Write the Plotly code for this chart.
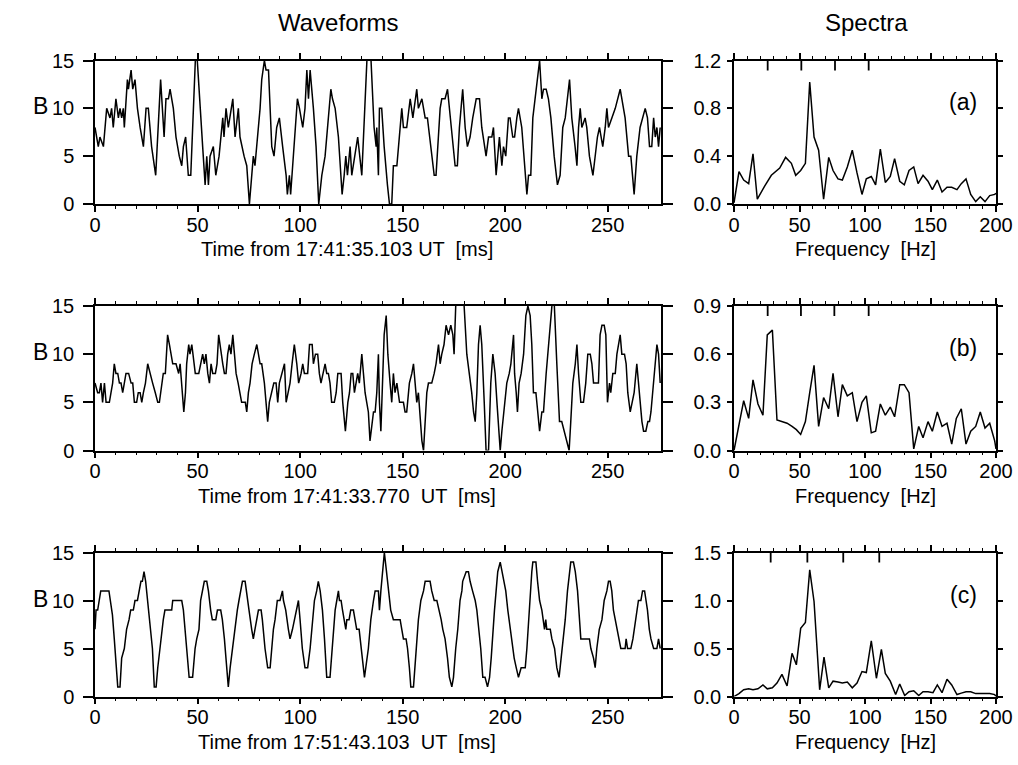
import plotly.graph_objects as go

W, H = 1018, 765
FONT = "Liberation Sans"

# ---------------- data: waveforms (time in ms, B in arbitrary units) ----------------
wa_t = [0, 1.6, 2.4, 4.1, 5.7, 7.3, 8.1, 8.9, 10.2, 11.4,
        12.2, 13.0, 13.8, 14.3, 15.8, 16.3, 17.6, 18.4, 19.5, 20.7,
        22.0, 23.6, 24.9, 26.0, 27.6, 29.6, 32.0, 33.7, 34.6, 35.8,
        36.6, 38.2, 39.5, 41.1, 42.3, 43.1, 44.2, 45.5, 46.7, 49.3,
        52.5, 53.7, 54.5, 55.3, 56.1, 57.7, 58.9, 60.5, 62.3, 62.9,
        63.9, 65.0, 67.2, 68.3, 69.9, 70.7, 72.7, 74.0, 75.3, 77.2,
        78.0, 79.7, 80.5, 81.3, 82.6, 83.4, 84.6, 86.2, 87.3, 88.6,
        89.9, 91.5, 93.2, 93.8, 94.8, 95.4, 97.1, 98.7, 99.7, 101.3,
        102.4, 103.3, 104.1, 104.9, 106.5, 107.8, 109.1, 110.6, 112.2, 113.3,
        114.1, 115.0, 115.8, 117.1, 118.7, 119.5, 120.5, 121.5, 122.3, 123.1,
        124.4, 125.2, 126.5, 128.1, 130.1, 133.0, 134.6, 136.1, 137.1, 137.4,
        138.2, 138.7, 139.8, 141.0, 142.6, 143.6, 144.7, 145.5, 147.2, 148.5,
        149.6, 150.4, 152.0, 153.7, 155.0, 156.9, 157.7, 159.4, 161.0, 162.1,
        163.7, 165.4, 166.3, 167.5, 168.3, 169.1, 170.7, 171.9, 172.8, 174.8,
        175.6, 176.7, 177.7, 178.9, 179.3, 180.5, 181.6, 182.9, 184.2, 185.9,
        187.5, 188.6, 189.8, 190.7, 191.9, 193.5, 194.3, 195.6, 197.2, 198.4,
        199.2, 200.3, 201.6, 202.4, 203.7, 204.6, 205.7, 206.5, 208.1, 209.3,
        210.6, 211.4, 212.5, 213.5, 215.1, 216.8, 217.9, 218.7, 220.0, 221.1,
        222.3, 223.9, 225.5, 226.8, 228.1, 229.3, 231.4, 232.5, 234.1, 235.0,
        235.8, 236.6, 237.4, 239.0, 239.8, 241.1, 242.8, 243.9, 245.0, 246.0,
        247.6, 248.8, 249.6, 250.4, 252.0, 253.7, 256.1, 256.9, 258.5, 260.2,
        261.3, 262.9, 264.2, 265.8, 267.1, 268.3, 269.4, 270.4, 271.5, 272.4,
        273.2, 274.0, 274.8, 275.6]
wa_b = [8, 6, 7, 6, 10, 9, 10, 8, 11, 9,
        10, 9, 10, 8, 13, 12, 14, 12, 13, 10,
        8, 6, 10, 10, 6, 3, 13, 7, 11, 11,
        12, 10, 7, 5, 4, 6, 7, 3, 3, 17,
        6, 2, 5, 2, 5, 6, 3, 5, 9, 7,
        10, 8, 11, 7, 10, 7, 5, 4, 0, 5,
        4, 8, 10, 13, 15, 14, 14, 6, 5, 8,
        9, 6, 3, 1, 3, 1, 6, 11, 10, 8,
        10, 14, 11, 14, 10, 6, 0, 3, 5, 8,
        10, 12, 11, 10, 7, 4, 1, 3, 5, 3,
        6, 3, 5, 7, 3, 17, 15, 8, 6, 8,
        3, 10, 10, 6, 2, 0, 0, 4, 4, 7,
        10, 8, 8, 11, 9, 12, 10, 11, 9, 9,
        6, 3, 3, 8, 10, 11, 11, 12, 10, 6,
        4, 4, 8, 11, 12, 8, 6, 7, 9, 11,
        11, 8, 6, 5, 7, 7, 8, 3, 7, 4,
        6, 5, 9, 9, 7, 7, 9, 10, 8, 5,
        1, 3, 3, 9, 12, 15, 11, 12, 12, 11,
        9, 5, 2, 3, 8, 9, 13, 9, 6, 4,
        8, 10, 8, 9, 8, 5, 3, 5, 7, 8,
        6, 8, 10, 8, 9, 10, 12, 11, 9, 5,
        5, 1, 5, 8, 9, 10, 9, 6, 6, 9,
        7, 8, 6, 8]

wb_t = [0, 1.3, 2.1, 2.9, 3.7, 4.6, 5.4, 7.0, 7.8, 8.6,
        9.4, 10.2, 11.1, 11.9, 12.7, 13.5, 14.3, 15.1, 16.4, 17.6,
        18.4, 19.2, 20.3, 21.1, 22.0, 22.8, 23.6, 24.6, 25.7, 26.8,
        28.1, 29.4, 30.6, 31.4, 32.5, 33.3, 34.3, 35.4, 36.3, 37.1,
        37.9, 39.5, 40.8, 41.5, 42.3, 43.3, 44.1, 44.7, 45.7, 46.3,
        47.2, 48.1, 48.9, 50.6, 51.4, 52.5, 53.3, 54.1, 55.0, 55.8,
        56.6, 57.4, 58.7, 59.5, 60.3, 61.5, 62.3, 63.1, 63.9, 64.7,
        65.5, 66.3, 67.2, 68.0, 68.8, 69.8, 70.7, 71.5, 72.4, 73.3,
        74.0, 74.8, 75.6, 76.6, 77.7, 78.9, 79.7, 80.5, 81.3, 82.6,
        83.4, 84.2, 85.0, 86.2, 87.2, 88.3, 89.1, 89.9, 91.1, 92.4,
        93.2, 94.0, 95.1, 96.1, 97.2, 98.4, 99.3, 100.5, 101.3, 102.1,
        103.7, 104.6, 105.9, 106.5, 107.5, 108.6, 109.4, 110.2, 111.1, 112.2,
        113.0, 113.8, 114.6, 115.4, 116.7, 117.6, 118.4, 120.0, 120.8, 122.1,
        123.3, 124.1, 124.9, 125.7, 126.5, 127.3, 128.1, 128.9, 130.1, 130.9,
        131.7, 132.5, 133.3, 134.1, 135.0, 135.8, 136.6, 137.4, 138.2, 138.7,
        139.4, 140.2, 141.0, 142.0, 142.8, 143.9, 144.7, 145.5, 146.3, 147.2,
        148.5, 150.4, 151.2, 152.0, 153.3, 154.5, 155.3, 156.1, 156.9, 157.7,
        158.5, 159.4, 160.2, 161.0, 161.8, 162.6, 164.2, 165.4, 166.3, 167.5,
        168.3, 169.1, 170.2, 171.2, 172.4, 173.5, 174.5, 175.1, 175.9, 178.0,
        180.0, 181.3, 182.6, 183.7, 184.6, 185.4, 186.2, 187.0, 187.8, 188.6,
        189.8, 190.7, 191.9, 193.0, 194.0, 195.1, 196.0, 196.8, 197.6, 198.4,
        199.5, 200.8, 202.0, 202.8, 204.1, 204.6, 205.4, 206.0, 206.8, 207.8,
        209.0, 210.1, 211.1, 212.2, 213.0, 213.8, 215.0, 216.0, 216.8, 217.9,
        218.7, 220.0, 221.1, 222.0, 223.6, 225.2, 226.5, 227.6, 228.8, 230.1,
        231.2, 232.0, 233.0, 234.2, 235.0, 235.8, 236.9, 238.2, 239.3, 240.3,
        241.5, 242.3, 243.1, 245.5, 246.3, 247.2, 248.3, 249.1, 249.9, 250.9,
        251.5, 252.5, 253.7, 254.5, 255.3, 256.1, 256.9, 258.2, 259.0, 259.8,
        261.0, 261.8, 262.9, 264.2, 265.0, 265.9, 266.7, 267.5, 268.6, 269.6,
        270.4, 271.1, 272.0, 273.2, 274.0, 274.8, 275.6]
wb_b = [7, 6, 6, 7, 5, 7, 5, 5, 6, 7,
        9, 8, 8, 7, 7, 6, 7, 8, 8, 7,
        7, 5, 5, 6, 6, 5, 6, 7, 9, 8,
        7, 6, 5, 5, 7, 8, 8, 12, 11, 10,
        9, 9, 8, 9, 7, 4, 6, 9, 11, 10,
        11, 9, 8, 8, 9, 10, 9, 10, 8, 7,
        9, 8, 8, 9, 12, 10, 9, 8, 8, 10,
        11, 10, 12, 10, 8, 7, 6, 5, 5, 5,
        4, 6, 7, 9, 10, 11, 10, 9, 9, 7,
        5, 3, 5, 6, 7, 7, 5, 7, 8, 9,
        5, 6, 7, 9, 11, 9, 7, 8, 9, 8,
        8, 11, 11, 9, 10, 10, 8, 7, 8, 9,
        8, 8, 7, 5, 5, 6, 8, 8, 5, 2,
        5, 6, 8, 8, 6, 7, 8, 7, 10, 8,
        6, 5, 4, 1, 3, 4, 4, 6, 10, 5,
        2, 7, 12, 14, 10, 7, 5, 8, 6, 7,
        5, 5, 4, 4, 7, 8, 9, 7, 5, 6,
        4, 1, 0, 3, 6, 7, 7, 8, 9, 11,
        9, 10, 11, 13, 12, 13, 12, 10, 15, 17,
        15, 10, 8, 6, 4, 3, 6, 11, 13, 11,
        5, 0, 0, 7, 10, 8, 5, 2, 0, 2,
        4, 7, 8, 9, 12, 8, 6, 4, 7, 8,
        10, 14, 15, 14, 11, 6, 6, 4, 2, 4,
        4, 8, 11, 14, 17, 9, 3, 3, 2, 1,
        0, 3, 7, 9, 11, 8, 5, 5, 7, 10,
        10, 9, 7, 7, 12, 13, 13, 12, 5, 7,
        6, 8, 8, 10, 11, 12, 10, 10, 9, 6,
        4, 5, 6, 9, 7, 5, 3, 2, 2, 3,
        3, 4, 6, 9, 11, 10, 7]

wc_t = [0, 0.5, 1.3, 2.0, 2.8, 6.8, 7.8, 8.5, 9.4, 10.2,
        11.1, 12.2, 13.0, 14.3, 15.4, 16.6, 17.4, 18.7, 19.5, 20.7,
        21.6, 22.4, 23.1, 23.9, 24.7, 25.7, 26.8, 28.0, 28.9, 29.8,
        30.6, 31.7, 32.5, 33.3, 34.1, 37.4, 37.9, 42.3, 43.1, 43.9,
        45.0, 45.9, 47.6, 48.8, 49.6, 50.7, 51.5, 52.5, 53.3, 54.5,
        55.3, 56.4, 57.2, 58.9, 59.7, 61.3, 62.1, 63.1, 63.9, 65.0,
        65.9, 67.0, 68.3, 69.4, 70.2, 71.1, 71.9, 73.2, 74.3, 75.1,
        76.4, 77.2, 78.0, 78.9, 79.7, 81.0, 81.6, 82.9, 84.2, 85.4,
        86.2, 87.0, 87.8, 88.9, 90.2, 91.4, 91.9, 93.0, 94.3, 95.1,
        96.3, 97.2, 98.4, 99.2, 100.0, 101.1, 102.4, 103.7, 104.9, 106.0,
        107.0, 108.1, 108.9, 109.8, 110.9, 111.9, 113.0, 114.6, 115.4, 116.3,
        117.1, 117.9, 118.7, 119.2, 120.0, 120.7, 121.6, 122.3, 122.8, 123.9,
        124.7, 126.0, 126.8, 127.6, 128.8, 129.8, 130.6, 131.4, 133.3, 134.5,
        135.8, 136.6, 138.2, 138.7, 139.4, 140.3, 141.1, 142.0, 143.1, 144.2,
        145.5, 148.8, 149.6, 150.4, 151.7, 152.4, 153.3, 154.0, 155.3, 156.6,
        157.7, 158.9, 160.2, 161.0, 163.4, 164.2, 165.4, 166.7, 167.8, 168.8,
        169.6, 170.7, 171.9, 172.8, 174.0, 174.8, 175.9, 176.9, 178.0, 178.9,
        179.3, 181.0, 182.1, 182.9, 184.1, 185.4, 186.2, 187.3, 188.1, 189.1,
        190.2, 191.4, 192.4, 193.2, 194.0, 194.8, 195.6, 196.4, 197.6, 198.4,
        199.2, 200.3, 201.3, 202.4, 203.6, 204.4, 205.4, 206.5, 207.8, 209.8,
        210.6, 211.4, 212.2, 213.0, 213.5, 215.0, 215.8, 216.8, 217.9, 218.7,
        219.2, 219.8, 220.3, 222.0, 222.8, 224.1, 225.2, 226.3, 227.3, 228.5,
        229.3, 230.4, 231.4, 232.0, 233.3, 234.2, 235.3, 236.1, 236.9, 241.1,
        241.8, 243.1, 243.9, 244.7, 245.9, 247.2, 248.3, 249.6, 250.4, 251.2,
        252.0, 252.8, 253.7, 254.8, 255.8, 256.4, 258.5, 259.0, 259.7, 261.3,
        262.3, 262.9, 264.2, 265.0, 266.2, 267.0, 268.0, 268.8, 269.4, 270.3,
        271.1, 272.4, 274.0, 274.8, 275.6]
wc_b = [7, 9, 9, 10, 11, 11, 9.5, 8.5, 6, 3,
        1, 1, 4, 5, 7, 8, 9, 9, 10, 10,
        11, 12, 12, 13, 12, 10, 8, 5, 1, 1,
        3, 5, 7, 8, 9, 9, 10, 10, 9, 7,
        4, 2, 2, 5, 6, 7, 10, 11, 12, 12,
        11, 9, 8, 8, 9, 9, 8, 6, 4, 1,
        3, 5, 7, 9, 10, 11, 12, 12, 10, 9,
        7, 6, 7, 8, 9, 9, 8, 5, 3, 3,
        5, 7, 8, 10, 10, 11, 10, 9, 7, 6,
        7, 8, 9, 10, 8, 5, 3, 3, 5, 8,
        10, 11, 12, 11, 9, 6, 2, 2, 4, 7,
        9, 10, 11, 10, 10, 9, 8, 7, 8, 8,
        9, 9, 8, 7, 7, 5, 3, 2, 5, 8,
        10, 11, 11, 9, 11, 13, 15, 13.3, 11, 9,
        8, 8, 7, 6, 6, 5, 3, 1, 1, 5,
        8, 10, 11, 12, 12, 11, 10, 10, 9, 8,
        7, 6, 4, 2, 1, 2, 5, 7, 10, 11,
        12, 13, 13, 12, 11, 10, 9, 7, 5, 2,
        2, 1, 2, 4, 7, 9, 11, 13, 14, 13,
        12, 11, 9, 7, 5, 4, 3, 2, 3, 3,
        5, 8, 11, 13, 14, 14, 12, 10, 9, 8,
        7, 8, 7, 7, 6, 5, 3, 2, 4, 6,
        8, 11, 13, 14, 14, 13, 11, 8, 6, 6,
        5, 4, 3, 5, 7, 8, 10, 11, 12, 12,
        11, 9, 8, 7, 6, 5, 5, 6, 5, 5,
        6, 7, 9, 10, 10, 11, 11, 10, 9, 7,
        6, 5, 5, 6, 5]

# ---------------- data: spectra (frequency in Hz, amplitude) ----------------
sa_f = [0, 3.8, 7.4, 11.2, 14.5, 17.8, 23.4, 28.5, 34.9, 39.4,
        43.8, 47.1, 50.9, 54.5, 57.8, 61.1, 64.6, 68.4, 72.3, 75.6,
        79.4, 82.7, 86.5, 90.3, 93.9, 97.7, 101.0, 104.8, 108.1, 111.7,
        115.5, 119.3, 122.6, 126.5, 130.0, 133.6, 137.2, 140.5, 144.3, 148.1,
        151.4, 155.2, 158.8, 162.6, 166.2, 170.2, 173.5, 177.1, 180.7, 184.5,
        188.0, 191.6, 195.2, 199.0, 200]
sa_v = [0.01, 0.27, 0.20, 0.17, 0.42, 0.04, 0.15, 0.24, 0.30, 0.39,
        0.34, 0.24, 0.28, 0.34, 1.02, 0.56, 0.45, 0.04, 0.39, 0.28,
        0.21, 0.20, 0.31, 0.45, 0.26, 0.08, 0.21, 0.23, 0.16, 0.46,
        0.18, 0.23, 0.38, 0.19, 0.16, 0.28, 0.31, 0.17, 0.24, 0.19,
        0.12, 0.20, 0.10, 0.14, 0.14, 0.12, 0.17, 0.21, 0.08, 0.02,
        0.06, 0.02, 0.07, 0.08, 0.09]

sb_f = [0, 3.8, 7.4, 11.2, 14.5, 18.3, 22.1, 25.4, 29.3, 32.8,
        36.6, 40.5, 44.3, 47.6, 50.9, 54.5, 57.8, 61.1, 64.6, 68.4,
        72.3, 75.6, 79.4, 82.7, 86.5, 90.3, 93.9, 97.7, 101.0, 104.8,
        108.1, 111.7, 115.5, 119.3, 122.6, 126.5, 130.0, 133.6, 137.2, 141.0,
        144.3, 148.1, 151.4, 155.2, 158.8, 162.6, 166.2, 169.7, 173.5, 177.1,
        180.7, 184.5, 188.0, 191.6, 195.2, 199.0, 200]
sb_v = [0.00, 0.16, 0.31, 0.20, 0.44, 0.29, 0.22, 0.72, 0.75, 0.19,
        0.18, 0.17, 0.15, 0.13, 0.10, 0.18, 0.36, 0.53, 0.15, 0.33,
        0.26, 0.48, 0.21, 0.41, 0.34, 0.36, 0.18, 0.30, 0.34, 0.11,
        0.12, 0.29, 0.22, 0.27, 0.21, 0.41, 0.41, 0.36, 0.01, 0.15,
        0.08, 0.18, 0.12, 0.24, 0.15, 0.17, 0.04, 0.20, 0.26, 0.04,
        0.12, 0.15, 0.24, 0.14, 0.17, 0.06, 0.01]

sc_f = [0, 3.8, 7.4, 11.2, 14.5, 18.3, 22.1, 25.4, 29.3, 32.8,
        36.6, 40.5, 44.3, 47.6, 50.9, 54.5, 57.8, 61.1, 65.4, 68.7,
        72.3, 75.6, 79.4, 82.7, 86.5, 90.3, 93.9, 97.7, 101.0, 104.8,
        108.7, 112.5, 115.5, 119.3, 123.4, 126.5, 130.3, 133.6, 137.2, 141.0,
        144.3, 148.1, 151.9, 155.2, 158.8, 162.6, 166.2, 170.2, 173.5, 177.1,
        180.7, 184.5, 188.0, 191.6, 195.2, 199.0, 200]
sc_v = [0.00, 0.03, 0.07, 0.08, 0.07, 0.08, 0.12, 0.08, 0.09, 0.14,
        0.23, 0.11, 0.45, 0.33, 0.71, 0.77, 1.32, 0.99, 0.07, 0.41,
        0.09, 0.16, 0.15, 0.14, 0.15, 0.09, 0.14, 0.26, 0.25, 0.58,
        0.19, 0.49, 0.24, 0.16, 0.02, 0.13, 0.01, 0.05, 0.06, 0.01,
        0.05, 0.05, 0.04, 0.12, 0.04, 0.18, 0.12, 0.02, 0.035, 0.05,
        0.05, 0.03, 0.03, 0.03, 0.03, 0.02, 0.0]

# marker ticks on the top edge of the spectra (Hz)
harm_a = [25.7, 51.4, 77.1, 102.8]
harm_b = [25.7, 51.1, 76.6, 102.8]
harm_c = [28.0, 56.0, 83.4, 110.9]

# text
time_titles = ["Time from 17:41:35.103 UT  [ms]",
               "Time from 17:41:33.770  UT  [ms]",
               "Time from 17:51:43.103  UT  [ms]"]
panel_tags = ["(a)", "(b)", "(c)"]
spec_ranges = [(0, 1.2, 0.4), (0, 0.9, 0.3), (0, 1.5, 0.5)]

# ---------------- layout geometry (pixels) ----------------
rows_px = [(60.5, 204.0), (306.0, 450.5), (552.5, 696.5)]
wave_px = (95.0, 661.0)
spec_px = (734.0, 996.0)


def xd(a, b):
    return [a / W, b / W]


def yd(top, bot):
    return [1 - bot / H, 1 - top / H]


base_axis = dict(showline=True, linecolor="black", linewidth=1.5, mirror="ticks",
                 ticks="outside", tickcolor="black", tickwidth=1.5,
                 showgrid=False, zeroline=False, fixedrange=True, automargin=False,
                 tickfont=dict(family=FONT, size=20, color="black"))

minor_ticks = dict(ticks="outside", dtick=10, tick0=0, ticklen=3,
                   tickcolor="black", tickwidth=1.2, showgrid=False)

fig = go.Figure()
layout = {}
shapes = []
annotations = []

waves = [(wa_t, wa_b), (wb_t, wb_b), (wc_t, wc_b)]
specs = [(sa_f, sa_v, harm_a), (sb_f, sb_v, harm_b), (sc_f, sc_v, harm_c)]


def add_top_axis(idx, over, ydom_anchor, xrange_, domain):
    """Unlabelled top axis carrying the major + minor tick marks."""
    layout[f"xaxis{idx}"] = dict(overlaying=over, side="top", anchor=ydom_anchor,
                                 domain=domain, range=xrange_, showline=False,
                                 showgrid=False, zeroline=False, fixedrange=True,
                                 automargin=False, showticklabels=False,
                                 ticks="outside", tickmode="linear", tick0=0, dtick=50,
                                 ticklen=6, tickwidth=1.5, tickcolor="black",
                                 minor=minor_ticks)
    fig.add_trace(go.Scatter(x=[None], y=[None], xaxis=f"x{idx}", yaxis=ydom_anchor,
                             mode="lines", showlegend=False, hoverinfo="skip"))


for r in range(3):
    top, bot = rows_px[r]
    # ---- waveform panel
    n = 2 * r + 1
    xn = "x" if n == 1 else f"x{n}"
    yn = "y" if n == 1 else f"y{n}"
    xk = "xaxis" if n == 1 else f"xaxis{n}"
    yk = "yaxis" if n == 1 else f"yaxis{n}"
    layout[xk] = dict(base_axis, domain=xd(*wave_px), anchor=yn, range=[0, 276],
                      tickmode="linear", tick0=0, dtick=50, ticklen=6,
                      ticklabelstandoff=-4, minor=minor_ticks)
    layout[yk] = dict(base_axis, domain=yd(top, bot), anchor=xn, range=[0, 15],
                      tickmode="linear", tick0=0, dtick=5, ticklen=10,
                      ticklabelstandoff=5)
    t, b = waves[r]
    fig.add_trace(go.Scatter(x=t, y=b, xaxis=xn, yaxis=yn, mode="lines",
                             line=dict(color="black", width=1.5), showlegend=False,
                             hoverinfo="skip"))
    add_top_axis(7 + 2 * r, xn, yn, [0, 276], xd(*wave_px))

    # ---- spectrum panel
    m = 2 * r + 2
    xm, ym = f"x{m}", f"y{m}"
    lo, hi, step = spec_ranges[r]
    layout[f"xaxis{m}"] = dict(base_axis, domain=xd(*spec_px), anchor=ym, range=[0, 200],
                               tickmode="linear", tick0=0, dtick=50, ticklen=6,
                               ticklabelstandoff=-4, minor=minor_ticks)
    layout[f"yaxis{m}"] = dict(base_axis, domain=yd(top, bot), anchor=xm, range=[lo, hi],
                               tickmode="linear", tick0=0, dtick=step, ticklen=5,
                               tickformat=".1f", ticklabelstandoff=2)
    f, v, harm = specs[r]
    fig.add_trace(go.Scatter(x=f, y=v, xaxis=xm, yaxis=ym, mode="lines",
                             line=dict(color="black", width=1.5), showlegend=False,
                             hoverinfo="skip"))
    add_top_axis(8 + 2 * r, xm, ym, [0, 200], xd(*spec_px))
    for h in harm:
        shapes.append(dict(type="line", xref=xm, yref=f"{ym} domain",
                           x0=h, x1=h, y0=1, y1=1 - 10 / (bot - top),
                           line=dict(color="black", width=1.8)))

    # ---- texts
    annotations.append(dict(text=time_titles[r], x=(sum(wave_px) / 2 - 31) / W,
                            y=1 - (bot + 45) / H, xref="paper", yref="paper",
                            showarrow=False, xanchor="center", yanchor="middle",
                            font=dict(family=FONT, size=20, color="black")))
    annotations.append(dict(text="Frequency  [Hz]", x=(sum(spec_px) / 2) / W,
                            y=1 - (bot + 45) / H, xref="paper", yref="paper",
                            showarrow=False, xanchor="center", yanchor="middle",
                            font=dict(family=FONT, size=20, color="black")))
    annotations.append(dict(text="B", x=40 / W, y=1 - (top + 46) / H,
                            xref="paper", yref="paper", showarrow=False,
                            xanchor="center", yanchor="middle",
                            font=dict(family=FONT, size=23, color="black")))
    annotations.append(dict(text=panel_tags[r], x=963 / W, y=1 - (top + 42) / H,
                            xref="paper", yref="paper", showarrow=False,
                            xanchor="center", yanchor="middle",
                            font=dict(family=FONT, size=23, color="black")))

annotations.append(dict(text="Waveforms", x=338 / W, y=1 - 22 / H, xref="paper",
                        yref="paper", showarrow=False, xanchor="center",
                        yanchor="middle", font=dict(family=FONT, size=24, color="black")))
annotations.append(dict(text="Spectra", x=866 / W, y=1 - 22 / H, xref="paper",
                        yref="paper", showarrow=False, xanchor="center",
                        yanchor="middle", font=dict(family=FONT, size=24, color="black")))

fig.update_layout(template="none", width=W, height=H,
                  margin=dict(l=0, r=0, t=0, b=0, autoexpand=False),
                  paper_bgcolor="white", plot_bgcolor="white",
                  showlegend=False, shapes=shapes, annotations=annotations,
                  font=dict(family=FONT, color="black"), **layout)

fig.write_html("out.html",
               config={"displayModeBar": False, "responsive": False},
               post_script="document.documentElement.style.margin='0';"
                           "document.body.style.margin='0';"
                           "document.body.style.overflow='hidden';"
                           "document.documentElement.style.overflow='hidden';")
